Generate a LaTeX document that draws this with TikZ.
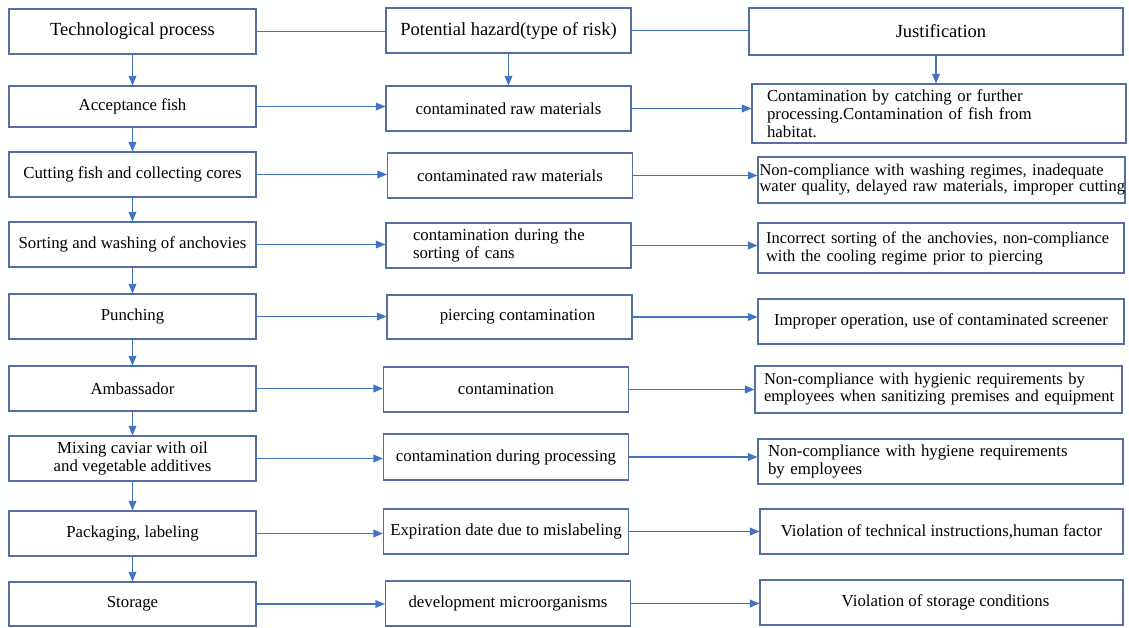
\documentclass[tikz,border=0pt]{standalone}
\usepackage{fontspec}
\setmainfont{Liberation Serif}
\usepackage{tikz}
\usetikzlibrary{arrows}
\definecolor{box_blue}{RGB}{84,112,160}
\definecolor{arrow_blue}{RGB}{68,114,196}
\newcommand{\headfont}{\fontsize{18.5}{20}\selectfont}
\newcommand{\bodyfont}{\fontsize{16.8}{17.8}\selectfont}

\begin{document}
\begin{tikzpicture}[->,>=triangle 45,x=1pt,y=-1pt]
    \tikzstyle{box}=[draw=box_blue, line width=1.2pt, rectangle, inner sep=2pt, text=black, align=center, font=\bodyfont]
    \tikzstyle{lbox}=[box, minimum width=247pt]
    \tikzstyle{mbox}=[box, minimum width=245pt]
    \tikzstyle{link}=[arrow_blue, line width=1.2pt]
    \useasboundingbox (0,0) rectangle (1129,627);

    % technological process
    \node[lbox, minimum height=45pt, font=\headfont] (lh) at (132.5,31.5)  {Technological process};
    \node[lbox, minimum height=41pt] (l1) at (132.5,106.5) {Acceptance fish};
    \node[lbox, minimum height=45pt] (l2) at (132.5,174.5) {Cutting fish and collecting cores};
    \node[lbox, minimum height=45pt] (l3) at (132.5,244.5) {Sorting and washing of anchovies};
    \node[lbox, minimum height=45pt] (l4) at (132.5,316.5) {Punching};
    \node[lbox, minimum height=45pt] (l5) at (132.5,388.5) {Ambassador};
    \node[lbox, minimum height=45pt] (l6) at (132.5,458.5) {Mixing caviar with oil\\and vegetable additives};
    \node[lbox, minimum height=45pt] (l7) at (132.5,533.5) {Packaging, labeling};
    \node[lbox, minimum height=44pt] (l8) at (132.5,604)   {Storage};

    % potential hazard
    \node[mbox, minimum height=45pt, font=\headfont] (mh) at (508.5,30.5) {Potential hazard(type of risk)};
    \node[mbox, minimum height=45pt] (m1) at (508.5,108.5) {contaminated raw materials};
    \node[mbox, minimum height=45pt] (m2) at (510,175.5)   {contaminated raw materials};
    \node[mbox, minimum height=45pt, align=left, inner xsep=27pt, text width=191pt] (m3) at (508.5,245.5)
        {contamination during the\\sorting of cans};
    \node[mbox, minimum height=44pt] (m4) at (509.5,317)   {\hspace*{16pt}piercing contamination};
    \node[mbox, minimum height=45pt] (m5) at (506,389.5)   {contamination};
    \node[mbox, minimum height=46pt] (m6) at (506,457)     {contamination during processing};
    \node[mbox, minimum height=45pt] (m7) at (506,531.5)   {Expiration date due to mislabeling};
    \node[mbox, minimum height=45pt] (m8) at (508,603.5)   {development microorganisms};

    % justification
    \node[box, minimum width=374pt, minimum height=47pt, font=\headfont] (rh) at (936,31.5) {\hspace*{10pt}Justification};
    \node[box, minimum width=374pt, minimum height=59pt, align=left, inner xsep=15pt, text width=344pt] (r1) at (939,113.5)
        {Contamination by catching or further\\processing.Contamination of fish from\\habitat.};
    \node[box, minimum width=367pt, minimum height=46pt, align=left, inner xsep=1.5pt, text width=364pt,
        font=\fontsize{16.5}{15}\selectfont] (r2) at (941.5,180)
        {\mbox{Non-compliance with washing regimes, inadequate}\\\mbox{water quality, delayed raw materials, improper cutting}};
    \node[box, minimum width=366pt, minimum height=50pt, align=left, inner xsep=8pt, text width=350pt,
        font=\fontsize{16.5}{18}\selectfont] (r3) at (941,248)
        {\mbox{Incorrect sorting of the anchovies, non-compliance}\\\mbox{with the cooling regime prior to piercing}};
    \node[box, minimum width=366pt, minimum height=45pt] (r4) at (941,321.5) {Improper operation, use of contaminated screener};
    \node[box, minimum width=367pt, minimum height=47pt, align=left, inner xsep=9pt, text width=349pt,
        font=\fontsize{16.5}{17}\selectfont] (r5) at (938.5,389.5)
        {\mbox{Non-compliance with hygienic requirements by}\\\mbox{employees when sanitizing premises and equipment}};
    \node[box, minimum width=365pt, minimum height=45pt, align=left, inner xsep=10pt, text width=345pt] (r6) at (940.5,461.5)
        {Non-compliance with hygiene requirements\\by employees};
    \node[box, minimum width=363pt, minimum height=45pt] (r7) at (941.5,531.5) {Violation of technical instructions,human factor};
    \node[box, minimum width=363pt, minimum height=45pt] (r8) at (941.5,602.5) {\hspace*{8pt}Violation of storage conditions};

    \path
     (lh) edge[link,-] (lh -| mh.west)
     (mh) edge[link,-] (mh -| rh.west)
     (lh) edge[link] (l1)
     (l1) edge[link] (l2)
     (l2) edge[link] (l3)
     (l3) edge[link] (l4)
     (l4) edge[link] (l5)
     (l5) edge[link] (l6)
     (l6) edge[link] (l7)
     (l7) edge[link] (l8)
     (mh) edge[link] (m1)
     (rh) edge[link] (rh |- r1.north)
     ;
    \path
     (l1) edge[link] (l1 -| m1.west)
     (l2) edge[link] (l2 -| m2.west)
     (l3) edge[link] (l3 -| m3.west)
     (l4) edge[link] (l4 -| m4.west)
     (l5) edge[link] (l5 -| m5.west)
     (l6) edge[link] (l6 -| m6.west)
     (l7) edge[link] (l7 -| m7.west)
     (l8) edge[link] (l8 -| m8.west)
     (m1) edge[link] (m1 -| r1.west)
     (m2) edge[link] (m2 -| r2.west)
     (m3) edge[link] (m3 -| r3.west)
     (m4) edge[link] (m4 -| r4.west)
     (m5) edge[link] (m5 -| r5.west)
     (m6) edge[link] (m6 -| r6.west)
     (m7) edge[link] (m7 -| r7.west)
     (m8) edge[link] (m8 -| r8.west)
     ;
\end{tikzpicture}
\end{document}
